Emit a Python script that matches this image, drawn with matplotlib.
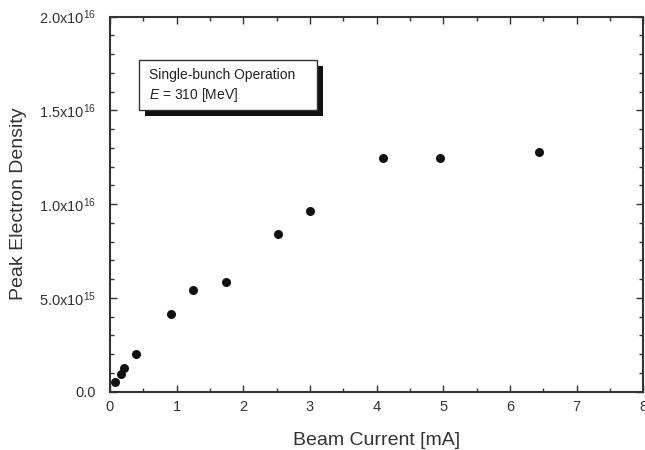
import matplotlib
matplotlib.use('Agg')
import matplotlib.pyplot as plt
from matplotlib.patches import Rectangle
from matplotlib.ticker import MultipleLocator, FuncFormatter

plt.rcParams['font.family'] = ['Liberation Sans', 'DejaVu Sans']
plt.rcParams['mathtext.fontset'] = 'custom'
plt.rcParams['mathtext.rm'] = 'Liberation Sans'
plt.rcParams['mathtext.it'] = 'Liberation Sans:italic'

### data
beam_current = [0.075, 0.16, 0.21, 0.385, 0.92, 1.24, 1.74, 2.52, 3.0, 4.10, 4.95, 6.43]
peak_density = [0.52e15, 0.95e15, 1.25e15, 1.98e15, 4.11e15, 5.42e15, 5.83e15,
                8.38e15, 9.62e15, 12.47e15, 12.47e15, 12.78e15]

box_lines = ['Single-bunch Operation', r'$\it{E}$ = 310 [MeV]']

fig = plt.figure(figsize=(6.45, 4.5), dpi=100)
ax = fig.add_axes([0.1705, 0.13, 0.827, 0.833])

ax.plot(beam_current, peak_density, 'o', color='#111111', ms=6.5, mec='none', clip_on=False)

ax.set_xlim(0, 8)
ax.set_ylim(0, 2e16)
ax.xaxis.set_major_locator(MultipleLocator(1))
ax.xaxis.set_minor_locator(MultipleLocator(0.5))
ax.yaxis.set_major_locator(MultipleLocator(5e15))
ax.yaxis.set_minor_locator(MultipleLocator(1e15))


def sci_fmt(v, pos):
    if v == 0:
        return '0.0'
    exp = int(f'{v:e}'.split('e')[1])
    mant = v / 10**exp
    return r'%.1fx10$^{\mathregular{%d}}$' % (mant, exp)


ax.yaxis.set_major_formatter(FuncFormatter(sci_fmt))
ax.tick_params(which='both', direction='in', top=True, right=True, color='#333333',
               labelsize=10.5, labelcolor='#333333')
ax.tick_params(which='major', length=5, width=1)
ax.tick_params(which='minor', length=3, width=1)
ax.tick_params(axis='x', pad=6)
ax.tick_params(axis='y', pad=10)
for s in ax.spines.values():
    s.set_color('#333333')
    s.set_linewidth(1.5)

ax.set_xlabel('Beam Current [mA]', fontsize=14, color='#333333', labelpad=13)
ax.set_ylabel('Peak Electron Density', fontsize=14, color='#333333', labelpad=9)

# label box with drop shadow
bx, by, bw, bh = 139 / 645, 1 - 110 / 450, 178 / 645, 50 / 450
dx, dy = 6 / 645, 6 / 450
fig.patches.append(Rectangle((bx + dx, by - dy), bw, bh, transform=fig.transFigure,
                             facecolor='#111111', edgecolor='none', zorder=5))
fig.patches.append(Rectangle((bx, by), bw, bh, transform=fig.transFigure,
                             facecolor='white', edgecolor='#333333', lw=1, zorder=6))
fig.text(bx + 10 / 645, 1 - 75 / 450, box_lines[0], fontsize=10, va='center', color='#222222', zorder=7)
fig.text(bx + 10 / 645, 1 - 95 / 450, box_lines[1], fontsize=10, va='center', color='#222222', zorder=7)

plt.savefig('out.png', dpi=100)
